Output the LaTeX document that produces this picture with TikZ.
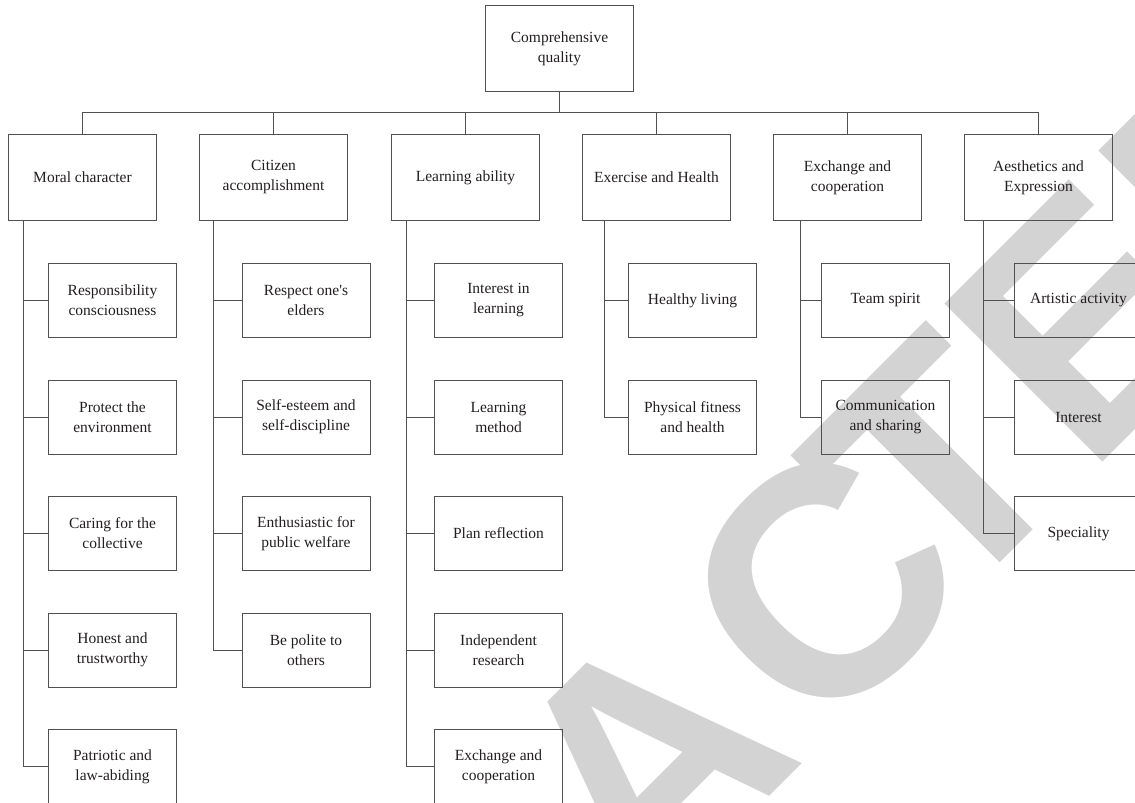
\documentclass[tikz,border=0pt]{standalone}
\usepackage{fontspec}
\setmainfont{Liberation Serif}
\newfontfamily\wmfont{Liberation Sans}
\definecolor{wmgray}{RGB}{211,211,211}
\definecolor{linegray}{RGB}{80,80,80}
\definecolor{txt}{RGB}{35,31,32}
\begin{document}
\begin{tikzpicture}[x=1pt,y=-1pt,
  line/.style={draw=linegray, line width=1pt},
  basebox/.style={line, inner sep=0pt, align=center, anchor=north west,
    font=\fontsize{15.5}{20}\selectfont, text=txt},
  headbox/.style={basebox, minimum width=148pt, minimum height=86pt},
  childbox/.style={basebox, minimum width=128pt, minimum height=74pt},
  wmletter/.style={rotate=45, text=wmgray, inner sep=0pt,
    font=\wmfont\bfseries\fontsize{325}{325}\selectfont},
]
\useasboundingbox (0,0) rectangle (1135,803);
\fill[white] (0,0) rectangle (1135,803);
\clip (0,0) rectangle (1135,803);

% watermark (visible letters of "RETRACTED")
\node[wmletter] (wA) at (646,761)     {A};
\node[wmletter] (wC) at (822,585)     {C};
\node[wmletter] (wT) at (938,467)     {T};
\node[wmletter] (wE) at (1085.5,321.5) {E};
\node[wmletter] (wD) at (1245,162)    {D};

% root
\node[headbox] (top) at (485,5) {Comprehensive\\quality};

% level 1
\node[headbox] (m) at (8,134)   {Moral character};
\node[headbox] (c) at (199,134) {Citizen\\accomplishment};
\node[headbox] (l) at (391,134) {Learning ability};
\node[headbox] (e) at (582,134) {Exercise and Health};
\node[headbox] (x) at (773,134) {Exchange and\\cooperation};
\node[headbox] (a) at (964,134) {Aesthetics and\\Expression};

% children: moral
\node[childbox] (m1) at (48,263)   {Responsibility\\consciousness};
\node[childbox] (m2) at (48,379.5) {Protect the\\environment};
\node[childbox] (m3) at (48,496)   {Caring for the\\collective};
\node[childbox] (m4) at (48,612.5) {Honest and\\trustworthy};
\node[childbox] (m5) at (48,729)   {Patriotic and\\law-abiding};
% citizen
\node[childbox] (c1) at (241.5,263)   {Respect one\textquotesingle s\\elders};
\node[childbox] (c2) at (241.5,379.5) {Self-esteem and\\self-discipline};
\node[childbox] (c3) at (241.5,496)   {Enthusiastic for\\public welfare};
\node[childbox] (c4) at (241.5,612.5) {Be polite to\\others};
% learning
\node[childbox] (l1) at (434,263)   {Interest in\\learning};
\node[childbox] (l2) at (434,379.5) {Learning\\method};
\node[childbox] (l3) at (434,496)   {Plan reflection};
\node[childbox] (l4) at (434,612.5) {Independent\\research};
\node[childbox] (l5) at (434,729)   {Exchange and\\cooperation};
% exercise
\node[childbox] (e1) at (628,263)   {Healthy living};
\node[childbox] (e2) at (628,379.5) {Physical fitness\\and health};
% exchange
\node[childbox] (x1) at (821,263)   {Team spirit};
\node[childbox] (x2) at (821,379.5) {Communication\\and sharing};
% aesthetics
\node[childbox] (a1) at (1014,263)   {Artistic activity};
\node[childbox] (a2) at (1014,379.5) {Interest};
\node[childbox] (a3) at (1014,496)   {Speciality};

% bus
\coordinate (busy) at (0,112);
\draw[line] (top.south) -- (top.south |- busy);
\draw[line] (m.north |- busy) -- (a.north |- busy);
\foreach \n in {m,c,l,e,x,a} {
  \draw[line] (\n.north) -- (\n.north |- busy);
}

% trunks
\coordinate (mtx) at (23,0);
\coordinate (ctx) at (213,0);
\coordinate (ltx) at (406.5,0);
\coordinate (etx) at (604.5,0);
\coordinate (xtx) at (800,0);
\coordinate (atx) at (983.5,0);

\draw[line] (m.south -| mtx) |- (m5.west);
\foreach \i in {1,...,4} \draw[line] (mtx |- m\i.west) -- (m\i.west);
\draw[line] (c.south -| ctx) |- (c4.west);
\foreach \i in {1,...,3} \draw[line] (ctx |- c\i.west) -- (c\i.west);
\draw[line] (l.south -| ltx) |- (l5.west);
\foreach \i in {1,...,4} \draw[line] (ltx |- l\i.west) -- (l\i.west);
\draw[line] (e.south -| etx) |- (e2.west);
\draw[line] (etx |- e1.west) -- (e1.west);
\draw[line] (x.south -| xtx) |- (x2.west);
\draw[line] (xtx |- x1.west) -- (x1.west);
\draw[line] (a.south -| atx) |- (a3.west);
\foreach \i in {1,2} \draw[line] (atx |- a\i.west) -- (a\i.west);
\end{tikzpicture}
\end{document}
